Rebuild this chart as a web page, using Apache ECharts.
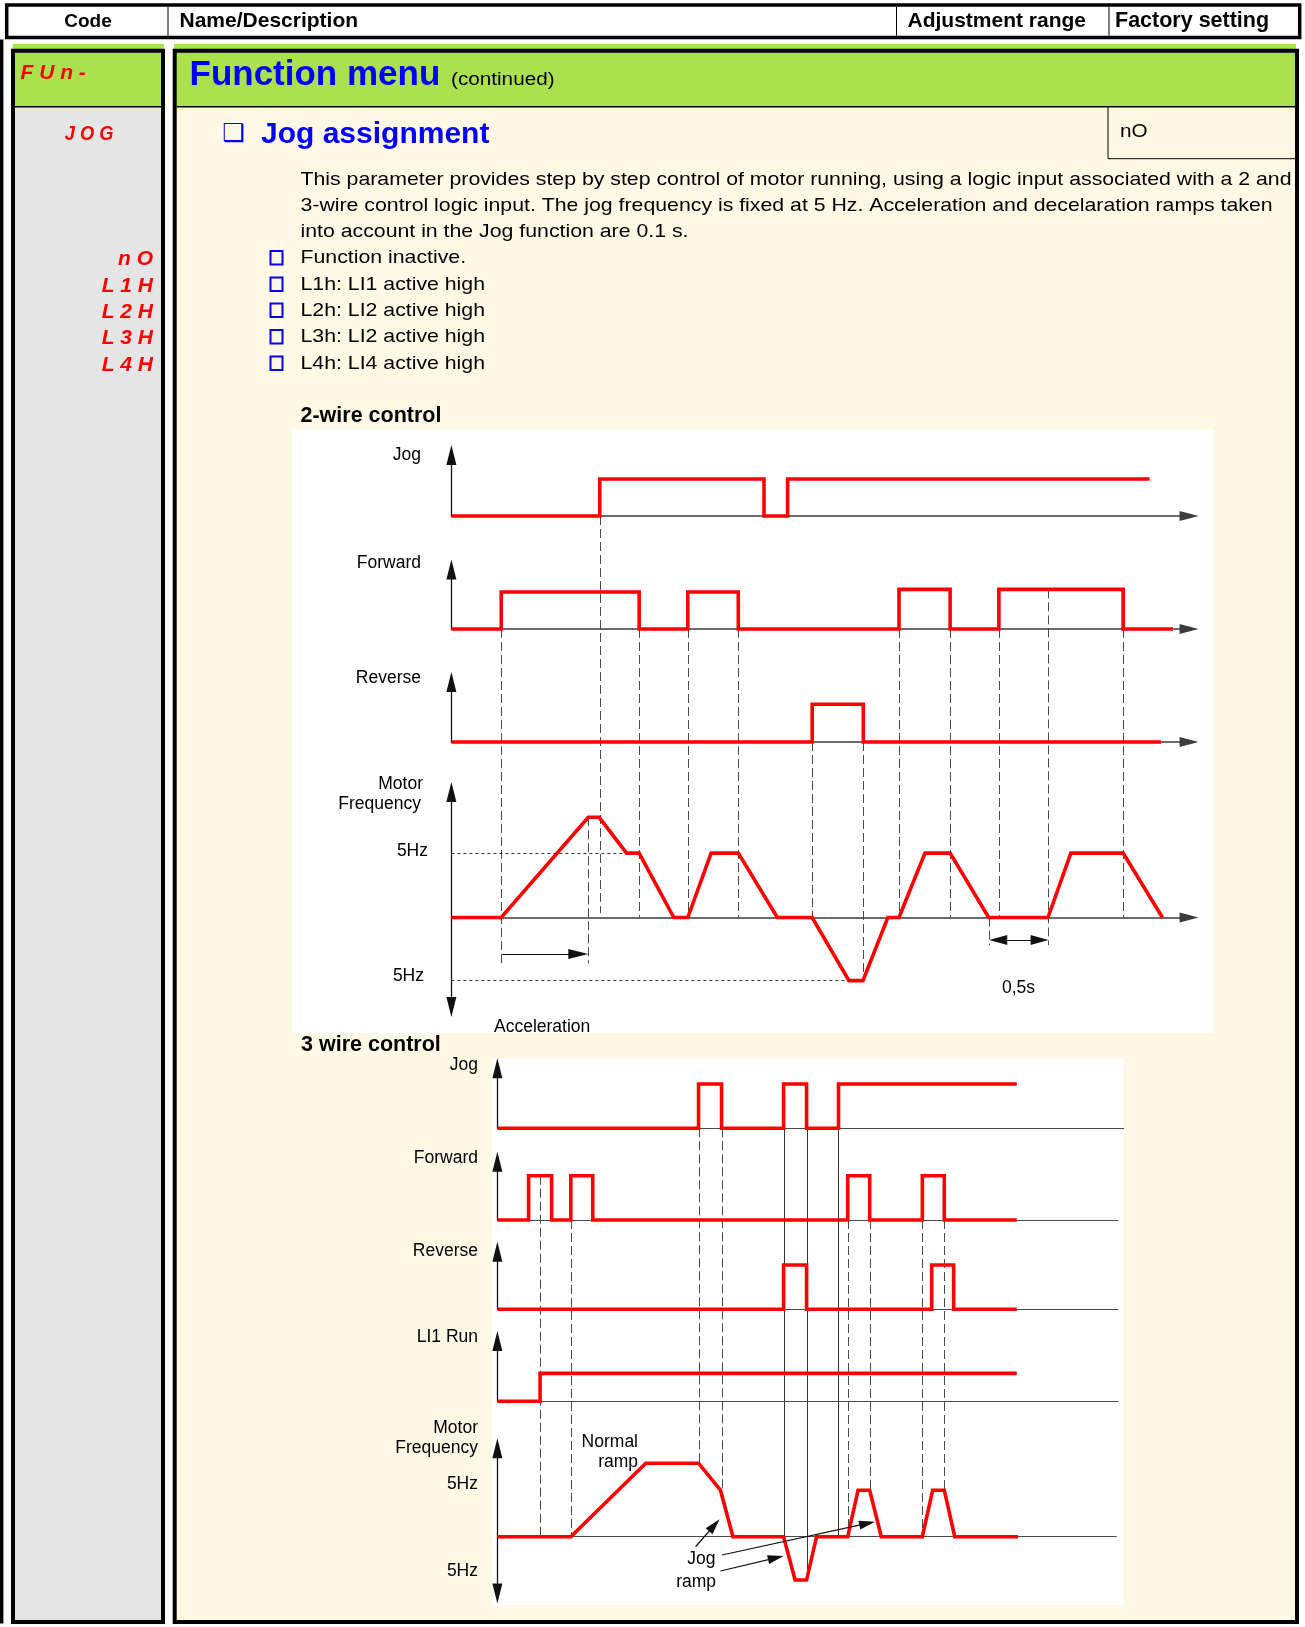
<!DOCTYPE html>
<html><head><meta charset="utf-8">
<script src="https://cdn.jsdelivr.net/npm/echarts@6/dist/echarts.min.js"></script>
<style>html,body{margin:0;padding:0;background:#fff}#c{width:1305px;height:1627px}</style>
</head><body><div id="c"></div>
<script>
// ================= DATA =================
const headerTitles = ['Code', 'Name/Description', 'Adjustment range', 'Factory setting'];
const menuCode = 'F U n -';
const menuTitle = 'Function menu';
const menuNote = '(continued)';
const paramCode = 'J O G';
const paramTitle = 'Jog assignment';
const factorySetting = 'nO';
const descriptionLines = [
  'This parameter provides step by step control of motor running, using a logic input associated with a 2 and',
  '3-wire control logic input. The jog frequency is fixed at 5 Hz. Acceleration and decelaration ramps taken',
  'into account in the Jog function are 0.1 s.'
];
const optionCodes = ['n O', 'L 1 H', 'L 2 H', 'L 3 H', 'L 4 H'];
const optionTexts = ['Function inactive.', 'L1h: LI1 active high', 'L2h: LI2 active high', 'L3h: LI2 active high', 'L4h: LI4 active high'];

const twoWireTitle = '2-wire control';
const threeWireTitle = '3 wire control';
const twoWireTracks = ['Jog', 'Forward', 'Reverse'];
const threeWireTracks = ['Jog', 'Forward', 'Reverse', 'LI1 Run'];
const motorLabel = ['Motor', 'Frequency'];
const freqTickLabel = '5Hz';

// 2-wire control  [time (s), level]  (step signals hold value until next time)
const twoWireJog = [[0, 0], [1.251, 1], [2.636, 0], [2.835, 1], [5.887, 1]];
const twoWireForward = [[0, 0], [0.42, 1], [1.583, 0], [1.993, 1], [2.419, 0], [3.774, 1.07], [4.205, 0], [4.616, 1.07], [5.664, 0], [6.084, 0]];
const twoWireReverse = [[0, 0], [3.042, 1.02], [3.473, 0], [5.983, 0]];
// motor frequency [time (s), Hz]
const twoWireMotor = [[0, 0], [0.42, 0], [1.154, 7.78], [1.246, 7.78], [1.477, 5], [1.583, 5], [1.875, 0], [1.993, 0],
  [2.19, 5], [2.419, 5], [2.748, 0], [3.042, 0], [3.352, -4.9], [3.47, -4.9], [3.68, 0], [3.774, 0], [3.993, 5], [4.205, 5],
  [4.53, 0], [5.03, 0], [5.223, 5], [5.664, 5], [5.995, 0]];
// reference lines [time, fromTrack, fromLevel, toTrack, toLevel]
const twoWireGuides = [[0.42, 'fwd2', 0, 'mot2', -3.82], [1.154, 'mot2', 7.78, 'mot2', -3.56], [1.251, 'jog2', 0, 'mot2', 0.33],
  [1.583, 'fwd2', 0, 'mot2', 0], [1.993, 'fwd2', 0, 'mot2', 0], [2.419, 'fwd2', 0, 'mot2', 0], [3.042, 'rev2', 0, 'mot2', 0],
  [3.473, 'rev2', 0, 'mot2', -4.9], [3.774, 'fwd2', 0, 'mot2', 0], [4.205, 'fwd2', 0, 'mot2', 0], [4.53, 'mot2', 0, 'mot2', -2.14],
  [4.616, 'fwd2', 0, 'mot2', 0], [5.03, 'fwd2', 1.07, 'mot2', -2.14], [5.664, 'fwd2', 0, 'mot2', 0]];
const twoWireFiveHz = [[0, 1.477, 5], [0, 3.352, -4.9]];          // [from t, to t, Hz]
const twoWireAccel = [0.428, 1.07, -2.83];                          // [from t, head t, Hz]
const twoWireHalfSecond = [4.611, 4.959, -1.75];                    // [head t, head t, Hz]
const accelLabel = 'Acceleration';
const halfSecondLabel = '0,5s';

// 3-wire control
const threeWireJog = [[0, 0], [1.696, 1], [1.890, 0], [2.413, 1], [2.607, 0], [2.876, 1], [4.379, 1]];
const threeWireForward = [[0, 0], [0.263, 1], [0.457, 0], [0.619, 1], [0.804, 0], [2.954, 1], [3.139, 0], [3.583, 1], [3.768, 0], [4.379, 0]];
const threeWireReverse = [[0, 0], [2.413, 1], [2.607, 0], [3.662, 1], [3.847, 0], [4.379, 0]];
const threeWireRun = [[0, 0], [0.36, 0.63], [4.379, 0.63]];
const threeWireMotor = [[0, 0], [0.619, 0], [1.251, 7.9], [1.696, 7.9], [1.881, 5], [1.986, 0], [2.413, 0], [2.510, -4.66],
  [2.607, -4.66], [2.691, 0], [2.954, 0], [3.041, 5], [3.139, 5], [3.237, 0], [3.583, 0], [3.670, 5], [3.768, 5], [3.856, 0], [4.390, 0]];
const threeWireDashed = [[0.36, 'fwd3', 1, 'mot3', 0], [0.619, 'fwd3', 0, 'mot3', 0], [1.696, 'jog3', 0, 'mot3', 7.9],
  [1.890, 'jog3', 0, 'mot3', 5], [2.954, 'fwd3', 0, 'mot3', 0], [3.139, 'fwd3', 0, 'mot3', 5], [3.583, 'fwd3', 0, 'mot3', 0],
  [3.768, 'fwd3', 0, 'mot3', 5]];
const threeWireSolid = [[2.413, 'jog3', 1, 'mot3', 0], [2.607, 'jog3', 1, 'mot3', -4.66], [2.876, 'jog3', 1, 'mot3', 0]];
// annotation arrows [tail t, tail Hz, head t, head Hz]
const threeWireJogRampArrows = [[1.671, -1.08, 1.829, 1.23], [1.894, -1.97, 3.118, 1.43], [1.88, -3.69, 2.348, -2.27]];
const normalRampLabel = ['Normal', 'ramp'];
const jogRampLabel = ['Jog', 'ramp'];

// ================= LAYOUT =================
const FONT = '"Liberation Sans", Arial, Helvetica, sans-serif';
const PXS = 118.6;           // pixels per second
const AV = 20;               // vertical arrow length
const RED = '#ff0000', BLUE = '#0000ff', CODE_RED = '#ff0000';
const BODY_STRETCH = 1.15;
const panels = [
  {id: 'jog2', x0: 451.4, xMax: 6.22, base: 516, unit: 37, tip: 445, xArrow: true, data: twoWireJog, step: true},
  {id: 'fwd2', x0: 451.4, xMax: 6.22, base: 629, unit: 37, tip: 559.5, xArrow: true, data: twoWireForward, step: true},
  {id: 'rev2', x0: 451.4, xMax: 6.22, base: 742, unit: 37, tip: 672, xArrow: true, data: twoWireReverse, step: true},
  {id: 'mot2', x0: 451.4, xMax: 6.22, base: 917.5, unit: 12.88, tip: 782, botTip: 1017, xArrow: true, data: twoWireMotor},
  {id: 'jog3', x0: 497.4, xMax: 5.28, base: 1128.3, unit: 44.3, tip: 1058.3, data: threeWireJog, step: true},
  {id: 'fwd3', x0: 497.4, xMax: 5.233, base: 1220, unit: 44.3, tip: 1151.7, data: threeWireForward, step: true},
  {id: 'rev3', x0: 497.4, xMax: 5.233, base: 1309.3, unit: 44.3, tip: 1241.7, data: threeWireReverse, step: true},
  {id: 'run3', x0: 497.4, xMax: 5.233, base: 1401.3, unit: 44.3, tip: 1331, data: threeWireRun, step: true},
  {id: 'mot3', x0: 497.4, xMax: 5.219, base: 1536.7, unit: 9.3, tip: 1438.3, botTip: 1603.5, data: threeWireMotor}
];
const panelIndex = {};
panels.forEach((p, i) => panelIndex[p.id] = i);

const grids = [], xAxes = [], yAxes = [], series = [];
const dotted = {color: '#333', width: 1, type: [3, 3]};
const blackLine = {color: '#111', width: 1.2, type: 'solid'};

panels.forEach((p, i) => {
  const top = p.tip + AV / 2;
  const bottom = p.botTip ? p.botTip - AV / 2 : p.base;
  grids.push({left: p.x0, top: top, width: p.xMax * PXS, height: bottom - top});
  xAxes.push({
    gridIndex: i, type: 'value', min: 0, max: p.xMax, z: 10,
    axisLine: {show: true, onZero: true, symbol: p.xArrow ? ['none', 'triangle'] : 'none', symbolSize: [10, 19],
      lineStyle: {color: p.xArrow ? '#3c3c3c' : '#4a4a4a', width: p.xArrow ? 1.5 : 1}},
    axisTick: {show: false}, axisLabel: {show: false}, splitLine: {show: false}
  });
  yAxes.push({
    gridIndex: i, type: 'value', min: p.botTip ? -(bottom - p.base) / p.unit : 0, max: (p.base - top) / p.unit, z: 10,
    axisLine: {show: true, onZero: false, symbol: p.botTip ? ['triangle', 'triangle'] : ['none', 'triangle'], symbolSize: [10, AV],
      lineStyle: {color: '#111', width: 1.3}},
    axisTick: {show: false}, axisLabel: {show: false}, splitLine: {show: false}
  });
  series.push({
    type: 'line', xAxisIndex: i, yAxisIndex: i, data: p.data, step: p.step ? 'end' : false,
    symbol: 'none', clip: false, z: 20, silent: true,
    lineStyle: {color: RED, width: 3.6, join: 'miter', cap: 'butt'}
  });
});

// marker lines on motor panels
const m2 = series[panelIndex.mot2];
m2.markLine = {
  silent: true, symbol: 'none', animation: false, label: {show: false}, z: 25, precision: 4,
  data: [
    ...twoWireFiveHz.map(d => [{coord: [d[0], d[2]], lineStyle: dotted}, {coord: [d[1], d[2]], lineStyle: dotted}]),
    [{coord: [twoWireAccel[0], twoWireAccel[2]], symbol: 'none', lineStyle: blackLine},
     {coord: [twoWireAccel[1], twoWireAccel[2]], symbol: 'triangle', symbolSize: [10, 20], lineStyle: blackLine}],
    [{coord: [twoWireHalfSecond[0], twoWireHalfSecond[2]], symbol: 'triangle', symbolSize: [10, 18], lineStyle: blackLine},
     {coord: [twoWireHalfSecond[1], twoWireHalfSecond[2]], symbol: 'triangle', symbolSize: [10, 18], lineStyle: blackLine}]
  ]
};
const m3 = series[panelIndex.mot3];
m3.markLine = {
  silent: true, symbol: 'none', animation: false, label: {show: false}, z: 25, precision: 4,
  data: threeWireJogRampArrows.map(a => [
    {coord: [a[0], a[1]], symbol: 'none', lineStyle: blackLine},
    {coord: [a[2], a[3]], symbol: 'triangle', symbolSize: [9, 16], lineStyle: blackLine}])
};

const chart = echarts.init(document.getElementById('c'), null, {renderer: 'canvas', width: 1305, height: 1627});
chart.setOption({
  animation: false, backgroundColor: '#ffffff',
  grid: grids, xAxis: xAxes, yAxis: yAxes, series: series
});

// ================= FRAME / TEXT GRAPHICS =================
const G = [];
function rect(x, y, w, h, fill, z, stroke, lw) {
  G.push({type: 'rect', silent: true, z: z, shape: {x: x, y: y, width: w, height: h},
    style: {fill: fill || 'none', stroke: stroke || null, lineWidth: lw || 0}});
}
function line(x1, y1, x2, y2, color, lw, z, dash) {
  G.push({type: 'line', silent: true, z: z, shape: {x1: x1, y1: y1, x2: x2, y2: y2},
    style: {stroke: color, lineWidth: lw, lineDash: dash || null}});
}
function text(str, x, y, opt) {
  opt = opt || {};
  G.push({type: 'text', silent: true, z: 30, x: x, y: y, scaleX: opt.sx || 1, style: {
    text: str, fill: opt.color || '#000', fontSize: opt.size || 17.5, fontFamily: opt.family || FONT,
    fontWeight: opt.weight || 'normal', fontStyle: opt.style || 'normal',
    align: opt.align || 'left', verticalAlign: 'middle'}});
}

// header row
rect(6.7, 5, 1293, 32.5, '#ffffff', 1, '#000', 3.5);
[168, 896.5, 1109].forEach(x => line(x, 6.8, x, 35.8, '#000', 1, 2));
text(headerTitles[0], 88, 21.5, {size: 19, weight: 'bold', align: 'center'});
text(headerTitles[1], 179.5, 21.5, {size: 21, weight: 'bold'});
text(headerTitles[2], 907.5, 21.5, {size: 21, weight: 'bold'});
text(headerTitles[3], 1115, 21.5, {size: 21.5, weight: 'bold'});

// page strip
rect(0, 39.5, 3.4, 1584, '#000', 1);
// green strips
rect(12.7, 44, 151.3, 5.5, '#abe14e', 1);
rect(174, 44, 1122, 5.5, '#abe14e', 1);
// code column
rect(13, 50.7, 150, 1571, '#e5e5e5', 1);
rect(13, 50.7, 150, 56, '#abe14e', 2);
// content column
rect(174.7, 50.7, 1122.3, 1571, '#fff8e5', 1);
rect(174.7, 50.7, 1122.3, 56, '#abe14e', 2);
// white diagram panels
rect(292, 429.5, 922, 603.5, '#ffffff', 3);
rect(491.8, 1058.3, 631.8, 546.7, '#ffffff', 3);
// borders
line(15, 106.8, 161, 106.8, '#000', 1.4, 4);
line(176.7, 106.8, 1295, 106.8, '#000', 1.4, 4);
line(1108, 107, 1108, 158.7, '#000', 1, 4);
line(1108, 158.7, 1295, 158.7, '#000', 1, 4);
rect(13, 50.7, 150, 1571.3, null, 4, '#000', 4);
rect(174.7, 50.7, 1122.3, 1571.3, null, 4, '#000', 4);

// menu header
text(menuCode, 20.5, 73.5, {size: 21, weight: 'bold', style: 'italic', color: CODE_RED});
text(menuTitle, 189.5, 75, {size: 35, weight: 'bold', color: BLUE});
text(menuNote, 451, 80.5, {size: 18, sx: BODY_STRETCH});
// parameter
text(paramCode, 113.5, 134, {size: 21, weight: 'bold', style: 'italic', color: CODE_RED, align: 'right', sx: 0.87});
text('\u2751', 222.5, 134, {size: 25, color: BLUE, family: '"DejaVu Sans", sans-serif'});
text(paramTitle, 261, 134.5, {size: 30, weight: 'bold', color: BLUE});
text(factorySetting, 1120, 132.5, {size: 18, sx: BODY_STRETCH});
const descY = [179.5, 205.5, 231.5];
descriptionLines.forEach((s, i) => text(s, 300.5, descY[i], {size: 18.5, sx: BODY_STRETCH}));
const optY = [258, 284.5, 310.5, 337, 363.5];
optionTexts.forEach((s, i) => {
  text(s, 300.5, optY[i], {size: 18.5, sx: BODY_STRETCH});
  rect(270.5, optY[i] - 7, 12, 13.5, null, 5, BLUE, 2);
  text(optionCodes[i], 153, optY[i] + 1.5, {size: 21, weight: 'bold', style: 'italic', color: CODE_RED, align: 'right'});
});

// diagram titles and labels
text(twoWireTitle, 300.5, 416, {size: 21.5, weight: 'bold'});
text(threeWireTitle, 301, 1045, {size: 21.5, weight: 'bold'});
const tw2Y = [455, 563, 678];
twoWireTracks.forEach((s, i) => text(s, 421, tw2Y[i], {align: 'right'}));
text(motorLabel[0], 423, 784, {align: 'right'});
text(motorLabel[1], 421, 804, {align: 'right'});
text(freqTickLabel, 428, 851.5, {align: 'right'});
text(freqTickLabel, 424, 976, {align: 'right'});
text(accelLabel, 494, 1027, {});
text(halfSecondLabel, 1002, 988, {});

const tw3Y = [1065, 1158.3, 1250.7, 1337.3];
threeWireTracks.forEach((s, i) => text(s, 478, tw3Y[i], {align: 'right'}));
text(motorLabel[0], 478, 1428.3, {align: 'right'});
text(motorLabel[1], 478, 1448.3, {align: 'right'});
text(freqTickLabel, 478, 1484, {align: 'right'});
text(freqTickLabel, 478, 1570.7, {align: 'right'});
text(normalRampLabel[0], 638, 1442, {align: 'right'});
text(normalRampLabel[1], 638, 1462.6, {align: 'right'});
text(jogRampLabel[0], 715.5, 1559, {align: 'right'});
text(jogRampLabel[1], 716, 1582, {align: 'right'});

// guide lines through the library scales
function guide(g, dash) {
  const a = chart.convertToPixel({gridIndex: panelIndex[g[1]]}, [g[0], g[2]]);
  const b = chart.convertToPixel({gridIndex: panelIndex[g[3]]}, [g[0], g[4]]);
  line(Math.round(a[0]) + 0.5, a[1], Math.round(b[0]) + 0.5, b[1], dash ? '#4a4a4a' : '#333', 1, 5, dash ? [9, 4] : null);
}
twoWireGuides.forEach(g => guide(g, true));
threeWireDashed.forEach(g => guide(g, true));
threeWireSolid.forEach(g => guide(g, false));

chart.setOption({graphic: {elements: G}});
</script>
</body></html>
